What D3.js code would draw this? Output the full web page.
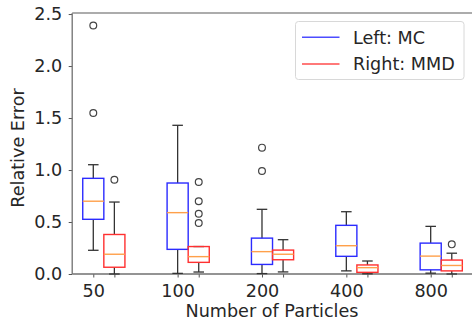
<!DOCTYPE html>
<html>
<head>
<meta charset="utf-8">
<script src="https://cdn.jsdelivr.net/npm/d3@7"></script>
<style>
  body { margin: 0; background: #fff; }
  svg { font-family: "DejaVu Sans", sans-serif; }
</style>
</head>
<body>
<div id="chart"></div>
<script>
// Chart data
const categories = ['50', '100', '200', '400', '800'];
// [lower whisker, q1, median, q3, upper whisker]
const mcBoxes = [
  [0.228, 0.526, 0.70, 0.92, 1.051],
  [0.006, 0.237, 0.59, 0.875, 1.43],
  [0.004, 0.092, 0.215, 0.345, 0.622],
  [0.030, 0.170, 0.272, 0.468, 0.599],
  [0.008, 0.040, 0.172, 0.297, 0.458]
];
const mcOutliers = [[2.39, 1.548], [], [1.215, 0.99], [], []];
const mmdBoxes = [
  [0.0, 0.065, 0.19, 0.38, 0.692],
  [0.019, 0.112, 0.167, 0.264, 0.264],
  [0.020, 0.137, 0.19, 0.23, 0.330],
  [0.002, 0.016, 0.061, 0.087, 0.125],
  [0.0, 0.030, 0.082, 0.134, 0.200]
];
const mmdOutliers = [[0.907], [0.885, 0.70, 0.58, 0.49], [], [], [0.285]];
const yTicks = [0, 0.5, 1.0, 1.5, 2.0, 2.5];

const width = 472, height = 322;
const margin = { left: 72.2, top: 13, bottom: 48 };
const boxWidth = 0.25, offset = 0.25;
const fontSize = '17.6px';

const svg = d3.select('#chart').append('svg')
  .attr('width', width)
  .attr('height', height);

const x = d3.scaleLinear()
  .domain([0.75, 5.75])
  .range([margin.left, margin.left + 5 * 84.35]);
const y = d3.scaleLinear()
  .domain([0, 2.51])
  .range([height - margin.bottom, margin.top]);

const positions = categories.map((c, i) => i + 1);

// Axes
const yAxis = svg.append('g')
  .attr('transform', `translate(${margin.left},0)`)
  .call(d3.axisLeft(y).tickValues(yTicks).tickFormat(d3.format('.1f'))
    .tickSize(3.5).tickSizeOuter(0).tickPadding(6.5));

const allTicks = positions.concat(positions.map(p => p + offset)).sort((a, b) => a - b);
const xAxis = svg.append('g')
  .attr('transform', `translate(0,${y(0)})`)
  .call(d3.axisBottom(x).tickValues(allTicks)
    .tickFormat(d => Number.isInteger(d) ? categories[d - 1] : '')
    .tickSize(3.5).tickSizeOuter(0).tickPadding(7));

[xAxis, yAxis].forEach(a => {
  a.selectAll('.domain').remove();
  a.selectAll('.tick line').attr('stroke', '#555').attr('stroke-width', 1);
  a.selectAll('.tick text').attr('fill', '#262626').style('font-size', fontSize)
    .style('font-family', '"DejaVu Sans", sans-serif');
});

// Spines
svg.append('line')
  .attr('x1', margin.left).attr('x2', margin.left)
  .attr('y1', margin.top).attr('y2', y(0))
  .attr('stroke', '#707070').attr('stroke-width', 1.3);
svg.append('line')
  .attr('x1', margin.left).attr('x2', width)
  .attr('y1', y(0)).attr('y2', y(0))
  .attr('stroke', '#707070').attr('stroke-width', 1.3);
svg.append('line')
  .attr('x1', margin.left).attr('x2', width)
  .attr('y1', margin.top).attr('y2', margin.top)
  .attr('stroke', '#909090').attr('stroke-width', 1.3);

// Boxplots
function drawBoxes(boxes, outliers, shift, color) {
  const g = svg.append('g');
  boxes.forEach((b, i) => {
    const cx = x(positions[i] + shift);
    const half = (x(boxWidth) - x(0)) / 2;
    const cap = half / 2;
    const [lo, q1, med, q3, hi] = b;
    // whiskers
    g.append('line').attr('x1', cx).attr('x2', cx).attr('y1', y(q3)).attr('y2', y(hi))
      .attr('stroke', '#333').attr('stroke-width', 1.3);
    g.append('line').attr('x1', cx).attr('x2', cx).attr('y1', y(q1)).attr('y2', y(lo))
      .attr('stroke', '#333').attr('stroke-width', 1.3);
    [lo, hi].forEach(v => {
      g.append('line').attr('x1', cx - cap).attr('x2', cx + cap)
        .attr('y1', y(v)).attr('y2', y(v))
        .attr('stroke', '#333').attr('stroke-width', 1.3);
    });
    // box
    g.append('rect')
      .attr('x', cx - half).attr('width', 2 * half)
      .attr('y', y(q3)).attr('height', y(q1) - y(q3))
      .attr('fill', 'none').attr('stroke', color).attr('stroke-width', 1.4);
    // median
    g.append('line').attr('x1', cx - half).attr('x2', cx + half)
      .attr('y1', y(med)).attr('y2', y(med))
      .attr('stroke', '#ffa04a').attr('stroke-width', 1.4);
    // outliers
    outliers[i].forEach(v => {
      g.append('circle').attr('cx', cx).attr('cy', y(v)).attr('r', 3.4)
        .attr('fill', 'none').attr('stroke', '#444').attr('stroke-width', 1.2);
    });
  });
}
drawBoxes(mcBoxes, mcOutliers, 0, '#2b2bff');
drawBoxes(mmdBoxes, mmdOutliers, offset, '#ff3030');

// Axis labels
svg.append('text')
  .attr('x', 272).attr('y', 316.5)
  .attr('text-anchor', 'middle')
  .attr('fill', '#262626').style('font-size', fontSize)
  .text('Number of Particles');
svg.append('text')
  .attr('transform', 'translate(24,148) rotate(-90)')
  .attr('text-anchor', 'middle')
  .attr('fill', '#262626').style('font-size', fontSize)
  .text('Relative Error');

// Legend
const legend = svg.append('g');
legend.append('rect')
  .attr('x', 295.5).attr('y', 21.5).attr('width', 168.5).attr('height', 58)
  .attr('rx', 3).attr('fill', '#fff').attr('fill-opacity', 0.8)
  .attr('stroke', '#d8d8d8').attr('stroke-width', 1);
const legendItems = [
  { label: 'Left: MC', color: '#4d4dff' },
  { label: 'Right: MMD', color: '#ff4d4d' }
];
legendItems.forEach((item, i) => {
  const ly = 37.3 + i * 26.7;
  legend.append('line')
    .attr('x1', 302).attr('x2', 339.5).attr('y1', ly).attr('y2', ly)
    .attr('stroke', item.color).attr('stroke-width', 1.4);
  legend.append('text')
    .attr('x', 353).attr('y', ly).attr('dy', '0.36em')
    .attr('fill', '#262626').style('font-size', fontSize)
    .text(item.label);
});
</script>
</body>
</html>
